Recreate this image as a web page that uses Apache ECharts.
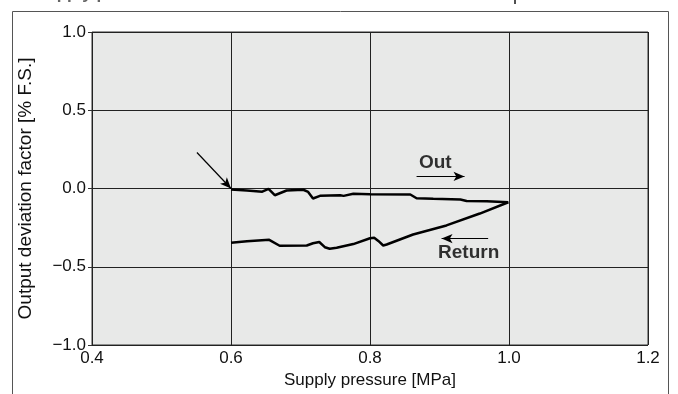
<!DOCTYPE html>
<html><head><meta charset="utf-8">
<script src="https://cdn.jsdelivr.net/npm/echarts@6/dist/echarts.min.js"></script>
<style>html,body{margin:0;padding:0;background:#fff}#c{width:678px;height:394px}</style>
</head><body><div id="c"></div>
<script>
var xTicks = [0.4, 0.6, 0.8, 1.0, 1.2];
var yTicks = [-1.0, -0.5, 0.0, 0.5, 1.0];
var outX = [0.600, 0.623, 0.645, 0.654, 0.663, 0.680, 0.704, 0.711, 0.718, 0.728, 0.757, 0.762, 0.776, 0.800, 0.858, 0.867, 0.891, 0.930, 0.939, 0.968, 0.999];
var outY = [-0.006, -0.013, -0.020, -0.002, -0.043, -0.013, -0.008, -0.022, -0.064, -0.047, -0.043, -0.047, -0.034, -0.036, -0.038, -0.062, -0.066, -0.070, -0.080, -0.082, -0.088];
var retX = [0.999, 0.958, 0.910, 0.862, 0.824, 0.819, 0.812, 0.806, 0.800, 0.776, 0.752, 0.742, 0.735, 0.727, 0.718, 0.709, 0.670, 0.655, 0.623, 0.600];
var retY = [-0.088, -0.160, -0.236, -0.294, -0.358, -0.364, -0.335, -0.315, -0.318, -0.355, -0.378, -0.385, -0.375, -0.342, -0.350, -0.364, -0.366, -0.328, -0.337, -0.347];
var pointerArrow = [[0.551, 0.23], [0.6, 0.0]];
var outArrow = [[0.867, 0.077], [0.936, 0.077]];
var retArrow = [[0.970, -0.32], [0.903, -0.32]];
var outLabel = {text: 'Out', at: [0.894, 0.165]};
var retLabel = {text: 'Return', at: [0.942, -0.41]};
var titleLeft = 'Supply pressure characteristics';
var titleRight = 'Set pressure: 0.7 MPa';

function zip(a, b) { return a.map(function (v, i) { return [v, b[i]]; }); }
var FONT = '"Liberation Sans", Arial, Helvetica, sans-serif';
var chart = echarts.init(document.getElementById('c'), null, {renderer: 'canvas'});
function arrowLine(pts) {
  return {
    type: 'line', data: [], showSymbol: false, silent: true,
    markLine: {silent: true, symbol: ['none', 'arrow'], symbolSize: [7, 11], label: {show: false},
      lineStyle: {color: '#000', width: 1.2, type: 'solid'},
      data: [[{coord: pts[0]}, {coord: pts[1]}]]}
  };
}
var option = {
  animation: false,
  grid: {left: 92, right: 30, top: 32, bottom: 48, show: true, backgroundColor: '#e8e9e8', borderColor: '#333', borderWidth: 1},
  xAxis: {
    type: 'value', min: xTicks[0], max: xTicks[xTicks.length - 1], interval: 0.2,
    name: 'Supply pressure [MPa]', nameLocation: 'middle', nameGap: 27,
    nameTextStyle: {color: '#111', fontSize: 17, fontFamily: FONT},
    axisLine: {show: false}, axisTick: {show: false},
    axisLabel: {color: '#111', fontSize: 17, fontFamily: FONT, margin: 5, formatter: function (v) { return v.toFixed(1); }},
    splitLine: {show: true, lineStyle: {color: '#222', width: 1}}
  },
  yAxis: {
    type: 'value', min: yTicks[0], max: yTicks[yTicks.length - 1], interval: 0.5,
    name: 'Output deviation factor [% F.S.]', nameLocation: 'middle', nameGap: 57,
    nameTextStyle: {color: '#111', fontSize: 19, fontFamily: FONT},
    axisLine: {show: false}, axisTick: {show: true, length: 4, lineStyle: {color: '#333'}},
    axisLabel: {color: '#111', fontSize: 17, fontFamily: FONT, margin: 6, formatter: function (v) { return (v < 0 ? '\u2212' : '') + Math.abs(v).toFixed(1); }},
    splitLine: {show: true, lineStyle: {color: '#222', width: 1}}
  },
  series: [
    {type: 'line', name: 'Out', data: zip(outX, outY), showSymbol: false, lineStyle: {color: '#000', width: 2.5}},
    {type: 'line', name: 'Return', data: zip(retX, retY), showSymbol: false, lineStyle: {color: '#000', width: 2.5}},
    arrowLine(pointerArrow),
    arrowLine(outArrow),
    arrowLine(retArrow),
    {type: 'scatter', symbolSize: 0, silent: true, data: [outLabel.at, retLabel.at],
      label: {show: true, position: 'inside', color: '#000', fontWeight: 'bold', fontSize: 19, fontFamily: FONT,
        formatter: function (p) { return p.dataIndex === 0 ? outLabel.text : retLabel.text; }}}
  ],
  graphic: [
    {type: 'rect', shape: {x: 12.5, y: 11.5, width: 656, height: 400}, style: {fill: 'none', stroke: '#555', lineWidth: 1}, silent: true},
    {type: 'text', left: 35, top: -14, style: {text: titleLeft, fill: '#666', font: 'bold 17px ' + FONT}},
    {type: 'text', right: 18, top: -14, style: {text: titleRight, fill: '#222', font: '18px ' + FONT}}
  ]
};
chart.setOption(option);
</script></body></html>
